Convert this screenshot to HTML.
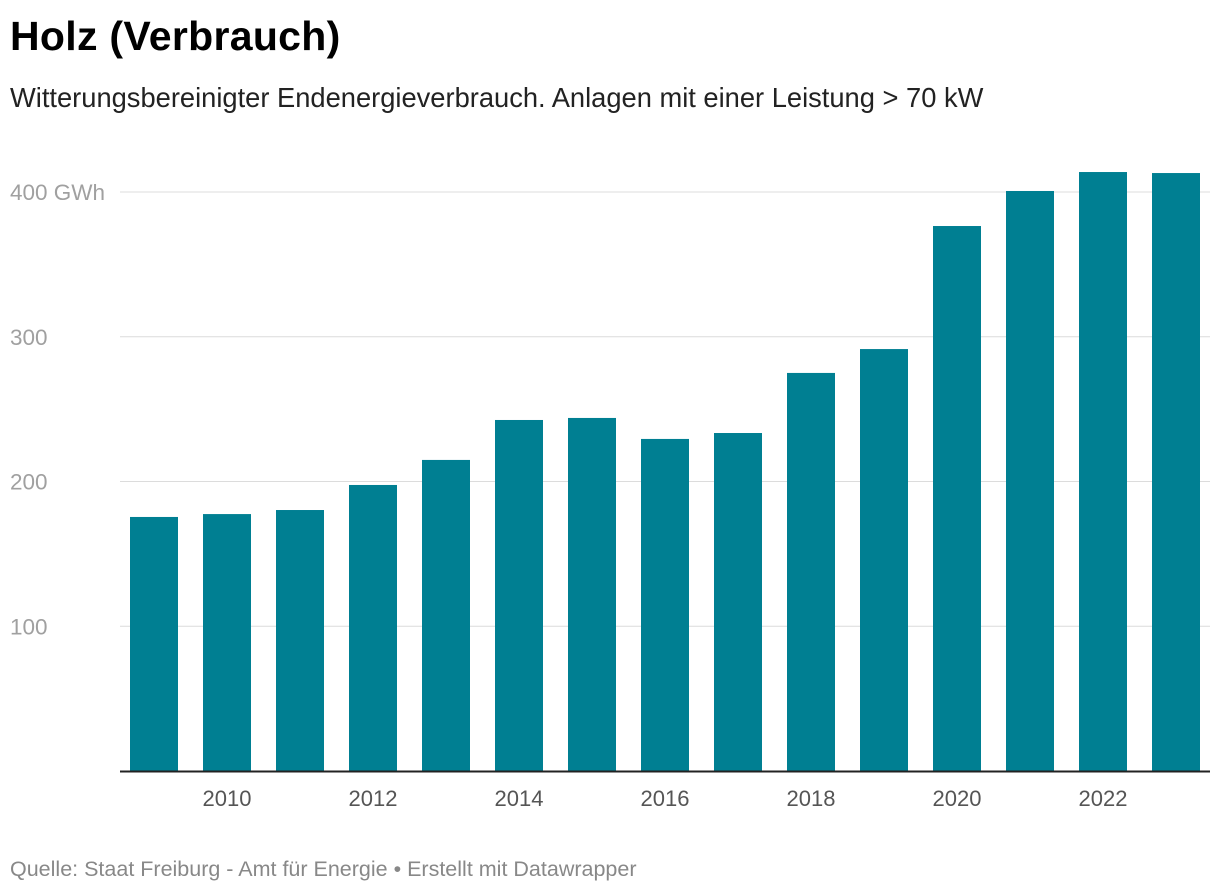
<!DOCTYPE html>
<html><head><meta charset="utf-8"><style>
body{margin:0;width:1220px;height:894px;background:#fff;font-family:"Liberation Sans",sans-serif;overflow:hidden;position:relative}
#title{position:absolute;left:10px;top:13px;font-size:41px;font-weight:bold;color:#000;margin:0;letter-spacing:0.3px}
#sub{position:absolute;left:10px;top:82px;font-size:27.3px;color:#222}
#foot{position:absolute;left:10px;top:857px;font-size:21.5px;color:#888}
svg{position:absolute;left:0;top:0}
</style></head><body>
<h1 id="title">Holz (Verbrauch)</h1>
<div id="sub">Witterungsbereinigter Endenergieverbrauch. Anlagen mit einer Leistung &gt; 70 kW</div>
<svg id="chart" width="1220" height="894"></svg>
<div id="foot">Quelle: Staat Freiburg - Amt für Energie • Erstellt mit Datawrapper</div>
<script>
const years=[2009,2010,2011,2012,2013,2014,2015,2016,2017,2018,2019,2020,2021,2022,2023];
const values=[175.5,177.5,180.3,197.6,214.9,242.5,243.9,229.4,233.5,275,291.5,376.5,400.7,413.8,413.1];
const yTicks=[100,200,300,400];
const yTickLabels=["100","200","300","400 GWh"];
const xTickYears=[2010,2012,2014,2016,2018,2020,2022];
const NS="http://www.w3.org/2000/svg";
const svg=document.getElementById('chart');
const y=v=>771-v*1.4475;
const x=yr=>154+(yr-2009)*73;
function mk(t,a){const e=document.createElementNS(NS,t);for(const k in a)e.setAttribute(k,a[k]);svg.appendChild(e);return e;}
yTicks.forEach((t,i)=>{
 const l=mk('line',{x1:120,x2:1210,y1:y(t),y2:y(t),stroke:'#dcdcdc','stroke-width':1});
 
 
 const tx=mk('text',{x:10,y:y(t)+8,'font-size':22.5,fill:'#a0a0a0','font-family':'Liberation Sans, sans-serif'});
 tx.textContent=yTickLabels[i];
 
 
});
years.forEach((yr,i)=>{
 const r=mk('rect',{x:x(yr)-24,y:y(values[i]),width:48,height:771-y(values[i]),fill:'#007f92'});
 
 
});
const ax=mk('line',{x1:120,x2:1210,y1:771.5,y2:771.5,stroke:'#222','stroke-width':2});


xTickYears.forEach(yr=>{
 const tx=mk('text',{x:x(yr),y:806,'font-size':22,fill:'#555','text-anchor':'middle','font-family':'Liberation Sans, sans-serif'});
 tx.textContent=yr;
 
 
});
</script>
</body></html>
